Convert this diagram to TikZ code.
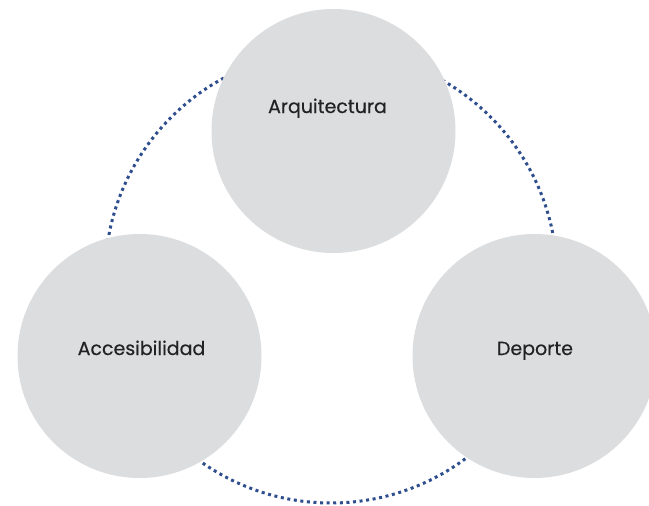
\documentclass[tikz,border=0pt]{standalone}
\usepackage{fontspec}
\setmainfont{Poppins}[FakeBold=0.35]
\definecolor{ringblue}{HTML}{2E4E8E}
\definecolor{topicgray}{HTML}{DCDDDF}
\definecolor{labelgray}{HTML}{222222}

\begin{document}
\begin{tikzpicture}[x=1pt, y=-1pt]
            \tikzstyle{ring path} = [ringblue, line width=3pt, dash pattern=on 3pt off 3.6pt]
            \tikzstyle{topic} = [circle, fill=topicgray, draw=none, minimum size=244pt, inner sep=0pt]
            \tikzstyle{topic label} = [text=labelgray, anchor=base, font=\fontsize{19}{21}\selectfont]
            
            \useasboundingbox (0, 0) rectangle (649, 506);
            
            \coordinate (ring) at (331, 277);
            \draw[ring path] (ring) circle[radius=226];
            
            \node[topic] (arq) at (333.5, 131) {};
            \node[topic] (acc) at (139.5, 356) {};
            \node[topic] (dep) at (534.5, 356) {};
            
            \node[topic label] at (327.5, 113) {Arquitectura};
            \node[topic label] at (141.5, 355) {Accesibilidad};
            \node[topic label] at (535, 355) {Deporte};
            
        \end{tikzpicture}
\end{document}
